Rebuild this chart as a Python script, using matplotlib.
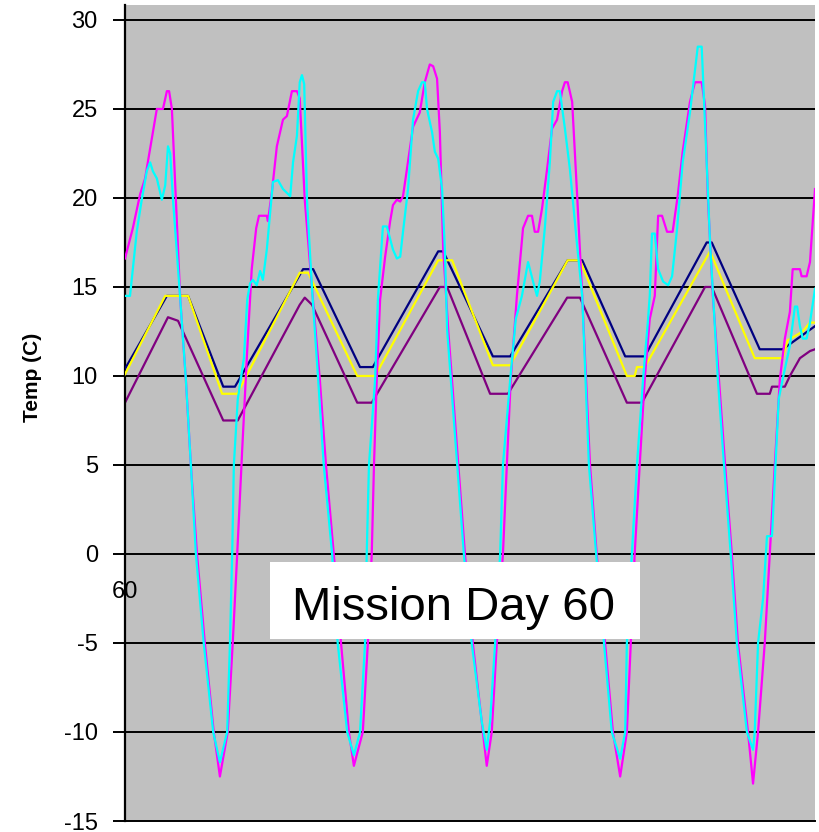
import matplotlib.pyplot as plt
from matplotlib.patches import Rectangle

plt.rcParams['font.family'] = ['Liberation Sans', 'DejaVu Sans']
plt.rcParams['axes.unicode_minus'] = False

# hours since start of mission day 60
mag_h = [0.0, 1.4, 2.7, 3.6, 5.7, 6.8, 7.5, 7.9, 8.4, 9.1, 9.9, 10.9, 11.8, 12.9, 14.3, 15.9, 17.0,
         18.4, 19.3, 20.1, 21.0, 21.9, 22.7, 23.5, 24.0, 25.4, 25.6, 26.3, 27.2, 28.3, 29.0, 29.9, 30.8,
         31.3, 32.2, 33.5, 34.9, 36.0, 37.4, 38.7, 40.1, 41.0,
         42.6, 43.5, 44.2, 44.6, 45.1, 45.7, 46.6, 47.5, 48.0, 48.7, 49.3, 49.8, 50.5, 51.6, 52.8, 53.7,
         54.6, 55.2, 55.9, 56.4, 57.0, 57.9, 59.5, 60.9, 62.3, 64.1, 64.8,
         65.7, 66.6, 67.7, 68.4, 69.1, 70.2, 71.3, 72.2, 72.9, 73.4, 74.0, 74.7, 75.6, 76.5, 77.4, 78.3,
         78.8, 79.3, 80.1, 81.0, 81.9, 83.3, 84.5, 86.0, 87.4, 88.7,
         89.9, 90.6, 91.3, 92.2, 93.1, 94.0, 94.9, 95.5, 96.2, 97.1, 98.1, 99.0, 99.9, 101.2, 102.1,
         103.3, 103.9, 104.4, 105.3, 106.4, 107.5, 108.7, 109.8, 111.6, 112.5,
         113.4, 114.6, 115.5, 116.4, 117.3, 118.2, 119.1, 119.6, 120.9, 121.2, 122.1, 122.7, 123.6]
mag_t = [16.6, 18.3, 20.2, 21.1, 25.0, 25.0, 26.0, 26.0, 25.0, 20.0, 14.3, 9.8, 5.0, 0.0, -5.0, -10.0, -12.5,
         -10.0, -5.0, 0.0, 5.9, 11.5, 16.0, 18.3, 19.0, 19.0, 18.7, 20.3, 22.9, 24.4, 24.6, 26.0, 26.0,
         25.6, 19.9, 14.9, 9.8, 5.0, 0.0, -5.0, -10.0, -11.9,
         -10.0, -5.0, 0.0, 5.0, 9.8, 14.3, 16.7, 18.7, 19.6, 19.9, 19.8, 20.1, 21.6, 24.0, 24.8, 26.5,
         27.5, 27.4, 26.7, 23.7, 17.1, 12.6, 5.9, 0.0, -5.0, -10.0, -11.9,
         -10.0, -5.0, 0.0, 5.0, 9.8, 14.5, 18.3, 19.0, 19.0, 18.1, 18.1, 19.4, 21.6, 23.9, 24.4, 26.0,
         26.5, 26.5, 25.4, 20.1, 14.5, 5.0, 0.0, -5.0, -10.0, -12.5,
         -10.0, -5.0, 0.0, 5.0, 9.8, 13.2, 14.5, 19.0, 19.0, 18.1, 18.1, 20.1, 22.6, 25.4, 26.5,
         26.5, 25.2, 20.1, 14.5, 9.8, 5.0, 0.0, -5.0, -10.0, -12.9,
         -10.0, -5.0, 0.0, 5.0, 9.8, 12.1, 13.6, 16.0, 16.0, 15.6, 15.6, 16.4, 20.5]

cyan_h = [0.0, 0.9, 2.1, 3.0, 3.9, 4.5, 5.0, 5.7, 6.6, 7.2, 7.7, 8.1, 8.6, 9.9, 10.9, 11.8, 12.7, 14.1,
          15.8, 17.0,
          18.3, 18.8, 19.2, 19.5, 20.2, 21.3, 21.9, 22.4, 22.9, 23.6, 24.2, 24.7, 25.4, 26.5, 27.4, 28.3,
          29.6, 30.1, 30.8, 31.3, 31.7, 32.1, 32.6, 33.5, 34.6, 35.6, 37.1, 38.1, 39.8, 41.0,
          42.1, 43.0, 43.3, 43.7, 44.8, 45.3, 46.2, 46.9, 47.5, 48.0, 48.7, 49.3, 49.8, 50.7, 51.6, 52.5,
          53.2, 53.7, 54.1, 55.0, 55.5, 56.1, 56.8, 57.3, 57.7, 59.3, 60.7, 62.1, 63.9, 64.8,
          65.4, 66.3, 67.2, 67.7, 69.0, 70.0, 71.1, 72.2, 73.1, 73.8, 74.3, 75.2, 76.1, 76.7, 77.4, 77.9,
          78.8, 79.7, 81.0, 81.9, 83.1, 84.4, 85.8, 87.2, 88.7,
          89.6, 89.9, 90.8, 91.7, 92.8, 93.7, 94.0, 94.4, 94.9, 95.5, 96.4, 97.3, 98.0, 98.9, 99.9, 101.2,
          102.1, 102.6, 103.3, 103.5, 104.2, 104.8, 106.2, 107.3, 108.5, 109.6, 111.4, 112.5,
          112.8, 113.4, 114.3, 115.0, 115.9, 116.4, 117.1, 117.8, 119.1, 120.0, 120.4, 120.9, 121.4, 122.1,
          122.7, 123.6]
cyan_t = [14.5, 14.5, 18.1, 19.9, 21.5, 22.0, 21.5, 21.1, 19.9, 20.7, 22.9, 22.5, 19.9, 14.3, 9.8, 5.0, 0.0, -5.0,
          -10.0, -11.7,
          -10.0, -5.0, 0.0, 5.0, 8.7, 11.0, 14.3, 15.2, 15.4, 15.1, 15.9, 15.4, 17.1, 20.9, 21.0, 20.5,
          20.1, 22.0, 23.5, 26.5, 26.9, 26.4, 19.9, 14.9, 9.8, 5.0, 0.0, -5.0, -10.0, -11.3,
          -10.0, -5.0, 0.0, 5.0, 9.8, 14.3, 18.4, 18.4, 17.7, 17.1, 16.6, 16.7, 18.1, 20.5, 24.4, 26.0,
          26.5, 26.5, 25.0, 23.7, 22.6, 22.2, 20.5, 17.1, 12.6, 5.9, 0.0, -5.0, -9.4, -11.0,
          -9.4, -5.0, 0.0, 5.0, 9.8, 13.2, 14.5, 16.4, 15.3, 14.5, 15.3, 18.3, 22.0, 25.4, 26.0, 26.0,
          23.9, 21.6, 17.3, 14.5, 5.0, 0.0, -5.0, -10.0, -11.5,
          -10.0, -5.0, 0.0, 5.0, 9.8, 13.2, 14.5, 18.0, 18.0, 16.0, 15.3, 15.1, 15.6, 18.3, 22.0, 24.8,
          27.2, 28.5, 28.5, 27.1, 22.0, 17.5, 9.8, 5.0, 0.0, -5.0, -10.0, -11.0,
          -10.0, -5.0, -2.5, 1.0, 1.0, 4.2, 8.7, 9.8, 11.7, 13.9, 13.9, 12.8, 12.1, 12.1,
          13.0, 14.9]

navy_h = [0.0, 7.5, 11.3, 17.6, 19.7, 31.9, 33.7, 42.1, 44.4, 56.1, 57.0, 65.9, 69.0, 79.3, 81.9,
          89.6, 93.1, 104.2, 105.1, 113.7, 117.8, 123.6]
navy_t = [10.4, 14.5, 14.5, 9.4, 9.4, 16.0, 16.0, 10.5, 10.5, 17.0, 17.0, 11.1, 11.1, 16.5, 16.5,
          11.1, 11.1, 17.5, 17.5, 11.5, 11.5, 12.8]

yel_h = [0.0, 7.2, 11.3, 17.4, 20.1, 31.3, 32.8, 41.6, 44.8, 56.1, 58.6, 65.9, 69.0, 79.3, 81.5,
         89.9, 91.3, 91.7, 93.1, 104.8, 112.8, 117.8, 118.7, 121.4, 122.7, 123.6]
yel_t = [10.1, 14.5, 14.5, 9.0, 9.0, 15.8, 15.8, 10.0, 10.0, 16.5, 16.5, 10.6, 10.6, 16.5, 16.5,
         10.0, 10.0, 10.5, 10.5, 17.0, 11.0, 11.0, 12.0, 12.5, 13.0, 13.0]

pur_h = [0.0, 7.7, 9.5, 17.6, 20.2, 31.3, 32.2, 33.5, 41.6, 44.2, 56.4, 57.7, 65.4, 68.6, 79.2, 81.5,
         89.9, 92.6, 103.9, 105.1, 113.2, 115.5, 115.9, 118.2, 119.1, 120.9, 122.7, 123.6]
pur_t = [8.5, 13.3, 13.1, 7.5, 7.5, 14.0, 14.4, 14.0, 8.5, 8.5, 15.0, 15.0, 9.0, 9.0, 14.4, 14.4,
         8.5, 8.5, 15.0, 15.0, 9.0, 9.0, 9.4, 9.4, 10.0, 11.0, 11.4, 11.5]

yticks = [-15, -10, -5, 0, 5, 10, 15, 20, 25, 30]

fig = plt.figure(figsize=(8.19, 8.32), dpi=100)
ax = fig.add_axes([125 / 819, 11 / 832, 690 / 819, 816 / 832])
ax.set_facecolor('#c0c0c0')

for y in yticks[1:]:
    ax.axhline(y, color='black', lw=1.4, zorder=1)

ax.plot(pur_h, pur_t, color='#800080', lw=1.6, zorder=2)
ax.plot(navy_h, navy_t, color='#000080', lw=1.6, zorder=3)
ax.plot(yel_h, yel_t, color='#ffff00', lw=1.6, zorder=4)
ax.plot(mag_h, mag_t, color='#ff00ff', lw=1.6, zorder=5)
ax.plot(cyan_h, cyan_t, color='#00ffff', lw=1.6, zorder=6)

ax.set_xlim(0, 123.6)
ax.set_ylim(-15, 30.84)
ax.set_yticks(yticks)
ax.set_xticks([])
ax.tick_params(axis='y', length=8.6, width=1.4, pad=11, labelsize=17, colors='black')
for s in ['top', 'right']:
    ax.spines[s].set_visible(False)
ax.spines['left'].set_linewidth(1.6)
ax.spines['bottom'].set_linewidth(1.4)

ax.annotate('60', xy=(0, 0), xytext=(0, -32), textcoords='offset points',
            ha='center', va='baseline', fontsize=17)

fig.text(33 / 819, 1 - 377 / 832, 'Temp (C)', rotation=90, fontweight='bold',
         fontsize=15, ha='center', va='center')

fig.patches.append(Rectangle((270 / 819, 1 - 639 / 832), 370 / 819, 77 / 832,
                             transform=fig.transFigure, facecolor='white',
                             edgecolor='none', zorder=10))
fig.text(292 / 819, 1 - 620 / 832, 'Mission Day 60', fontsize=34, ha='left',
         va='baseline', zorder=11)

fig.savefig('out.png', dpi=100)
